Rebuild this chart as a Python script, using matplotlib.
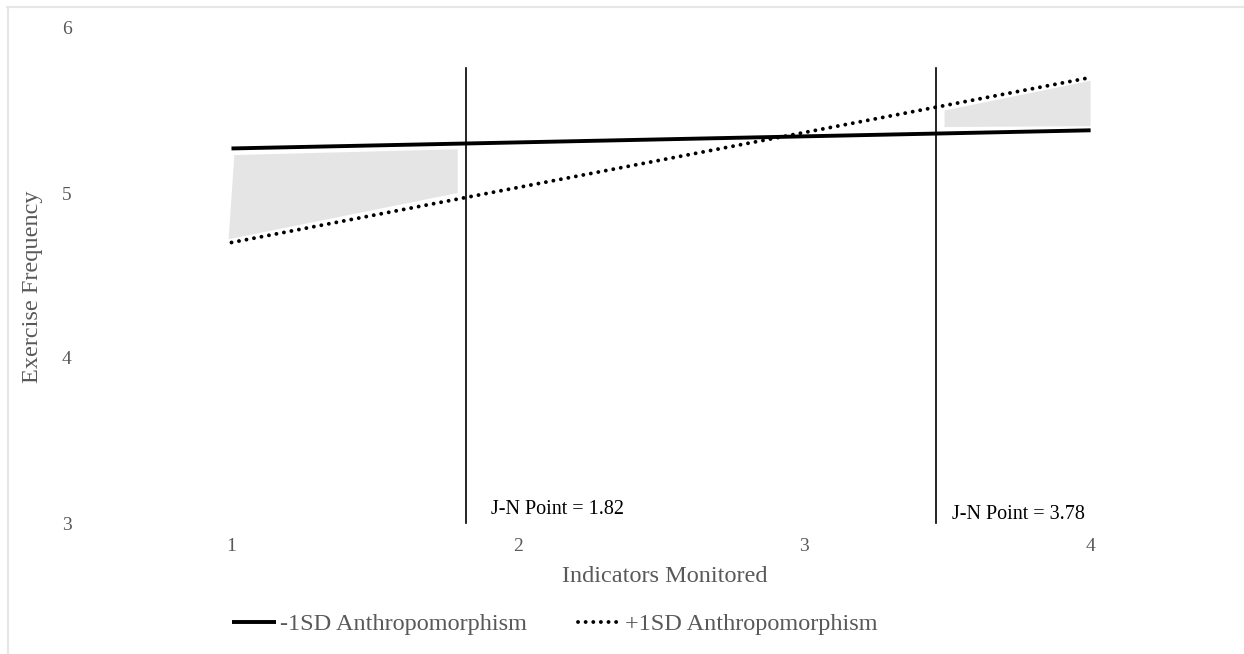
import matplotlib
matplotlib.use('Agg')
import matplotlib.pyplot as plt
from matplotlib.lines import Line2D

# ---- data ----
x_vals = [1, 4]
low_anthro = [5.27, 5.38]     # -1SD Anthropomorphism
high_anthro = [4.70, 5.70]    # +1SD Anthropomorphism
series_labels = ['-1SD Anthropomorphism', '+1SD Anthropomorphism']

jn_line_x = [1.82, 3.46]
jn_line_top = 5.76
jn_labels = ['J-N Point = 1.82', 'J-N Point = 3.78']

region1_x = [0.99, 1.01, 1.79, 1.79]
region1_y = [4.72, 5.23, 5.265, 5.00]
region2_x = [3.49, 3.49, 4.00, 4.00]
region2_y = [5.40, 5.50, 5.68, 5.405]

x_ticks = [1, 2, 3, 4]
y_ticks = [3, 4, 5, 6]
x_label = 'Indicators Monitored'
y_label = 'Exercise Frequency'

# ---- styling ----
plt.rcParams['font.family'] = ['Liberation Serif', 'DejaVu Serif']
GRAY = '#595959'
W, H = 1244, 654
fig = plt.figure(figsize=(W / 100, H / 100), dpi=100)
fig.patch.set_facecolor('white')

ax = fig.add_axes([88.3 / W, 1 - 523 / H, (1233.8 - 88.3) / W, 495 / H])
ax.set_xlim(0.5, 4.5)
ax.set_ylim(3, 6)
for s in ax.spines.values():
    s.set_visible(False)
ax.set_xticks(x_ticks)
ax.set_yticks(y_ticks)
ax.tick_params(axis='both', length=0, labelsize=14, labelcolor=GRAY)
ax.tick_params(axis='y', pad=12)
ax.tick_params(axis='x', pad=10.5)

# shaded regions of significance
ax.fill(region1_x, region1_y, color='#e5e5e5', lw=0, zorder=1)
ax.fill(region2_x, region2_y, color='#e5e5e5', lw=0, zorder=1)

# series
ax.plot(x_vals, low_anthro, color='black', lw=2.8, solid_capstyle='butt',
        label=series_labels[0], zorder=3)
ax.plot(x_vals, high_anthro, color='black', lw=2.8, linestyle=(0, (0.01, 1.95)),
        dash_capstyle='round', label=series_labels[1], zorder=3)

# Johnson-Neyman lines and labels
label_offsets = [(18, 9.5), (11.5, 5.8)]
for xv, lab, off in zip(jn_line_x, jn_labels, label_offsets):
    ax.plot([xv, xv], [3, jn_line_top], color='black', lw=1.2, zorder=4,
            clip_on=False)
    ax.annotate(lab, xy=(xv, 3), xytext=off, textcoords='offset points',
                ha='left', va='center', fontsize=14.5, color='black')

# axis titles
fig.text(33 / W, 1 - 287 / H, y_label, rotation=90, ha='center', va='center',
         fontsize=17.5, color=GRAY)
fig.text(665 / W, 1 - 577 / H, x_label, ha='center', va='center',
         fontsize=17.5, color=GRAY)

# legend
handles, labels = ax.get_legend_handles_labels()
leg = fig.legend(handles, labels, loc='center', ncol=2,
                 bbox_to_anchor=(555 / W, 1 - 624 / H), frameon=False,
                 fontsize=17.5, handlelength=1.8, handletextpad=0.15,
                 columnspacing=2.1, borderpad=0)
for t in leg.get_texts():
    t.set_color(GRAY)

# light chart-area border (top and left edges visible)
fig.add_artist(Line2D([7 / W, 1], [1 - 7 / H, 1 - 7 / H], color='#e6e6e6', lw=1.5,
                      transform=fig.transFigure))
fig.add_artist(Line2D([8 / W, 8 / W], [0, 1 - 7 / H], color='#e6e6e6', lw=1.5,
                      transform=fig.transFigure))

fig.savefig('out.png', dpi=100, facecolor='white')
